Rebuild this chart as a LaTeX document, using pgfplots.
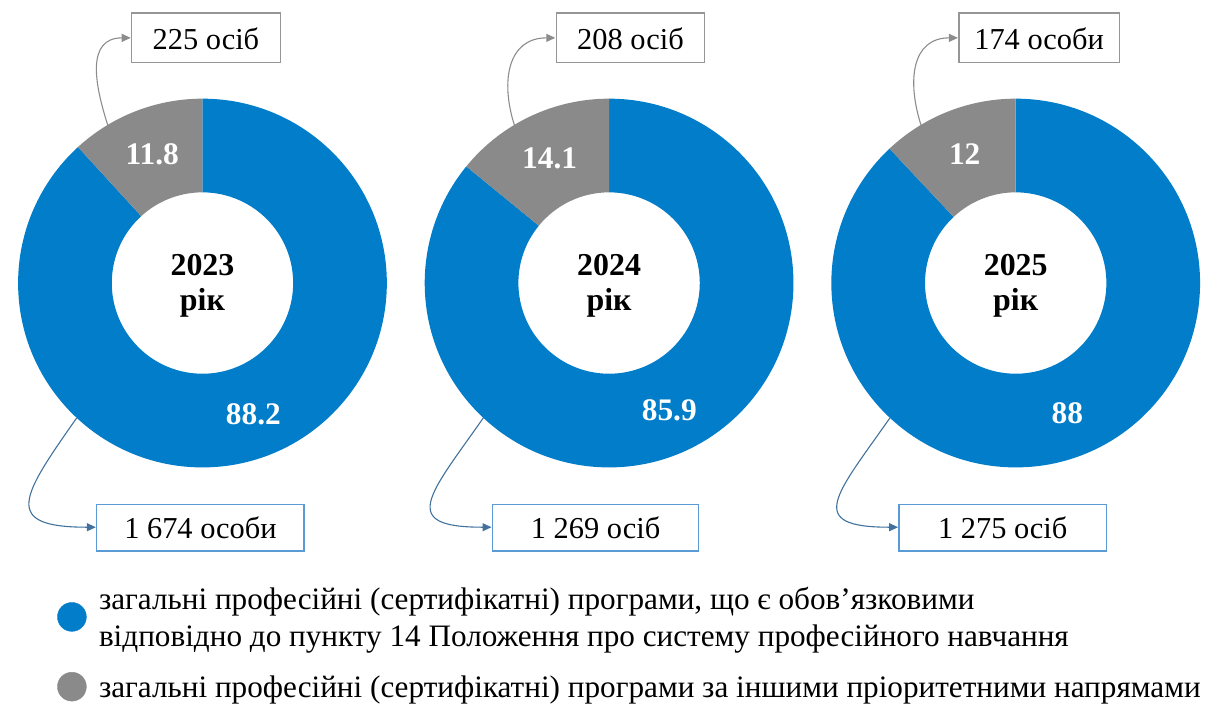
\documentclass[border=0pt]{standalone}
\usepackage{pgfplots}
\pgfplotsset{compat=1.18}
\usepackage{pgfplotstable}
\usepackage{fontspec}
\setmainfont{Liberation Serif}
\usetikzlibrary{arrows.meta}
\definecolor{cblue}{RGB}{2,125,201}
\definecolor{cgray}{RGB}{138,138,138}
\definecolor{boxgray}{RGB}{150,150,150}
\definecolor{boxblue}{RGB}{91,155,213}
\definecolor{arrgray}{RGB}{140,140,140}
\definecolor{arrblue}{RGB}{65,113,156}

\pgfplotstableread{
cx year blue gray
199 2023 88.2 11.8
607 2024 85.9 14.1
1015 2025 88 12
}\donuts

\pgfplotstablegetelem{0}{cx}\of\donuts\let\cxA\pgfplotsretval
\pgfplotstablegetelem{0}{year}\of\donuts\let\yearA\pgfplotsretval
\pgfplotstablegetelem{0}{blue}\of\donuts\let\blueA\pgfplotsretval
\pgfplotstablegetelem{0}{gray}\of\donuts\let\grayA\pgfplotsretval
\pgfplotstablegetelem{1}{cx}\of\donuts\let\cxB\pgfplotsretval
\pgfplotstablegetelem{1}{year}\of\donuts\let\yearB\pgfplotsretval
\pgfplotstablegetelem{1}{blue}\of\donuts\let\blueB\pgfplotsretval
\pgfplotstablegetelem{1}{gray}\of\donuts\let\grayB\pgfplotsretval
\pgfplotstablegetelem{2}{cx}\of\donuts\let\cxC\pgfplotsretval
\pgfplotstablegetelem{2}{year}\of\donuts\let\yearC\pgfplotsretval
\pgfplotstablegetelem{2}{blue}\of\donuts\let\blueC\pgfplotsretval
\pgfplotstablegetelem{2}{gray}\of\donuts\let\grayC\pgfplotsretval

% #1 cx, #2 year, #3 blue share, #4 gray share
\newcommand{\donut}[4]{%
  \fill[cblue] (axis cs:#1,284) ++(90:185pt)
     arc[start angle=90, end angle={90-3.6*#3}, radius=185pt]
     -- ++({90-3.6*#3}:-94pt)
     arc[start angle={90-3.6*#3}, end angle=90, radius=91pt] -- cycle;
  \fill[cgray] (axis cs:#1,284) ++(90:185pt)
     arc[start angle=90, end angle={90+3.6*#4}, radius=185pt]
     -- ++({90+3.6*#4}:-94pt)
     arc[start angle={90+3.6*#4}, end angle=90, radius=91pt] -- cycle;
  \path (axis cs:#1,284) ++({90+1.8*#4}:139pt)
     node[text=white, font=\bfseries\fontsize{31.5}{36}\selectfont] {#4};
  \path (axis cs:#1,284) ++({90-1.8*#3}:141pt)
     node[text=white, font=\bfseries\fontsize{31.5}{36}\selectfont] {#3};
  \node[anchor=base, font=\bfseries\fontsize{32}{36}\selectfont] at (axis cs:#1,276) {#2};
  \node[anchor=base, font=\bfseries\fontsize{32}{36}\selectfont] at (axis cs:#1,312) {рік};
}
% #1 cx, #2 top box left, #3 top box right, #4 top text, #5 bottom box left, #6 bottom box right, #7 bottom text
\newcommand{\callouts}[7]{%
  \draw[boxgray, line width=1.3pt, fill=white] (axis cs:#2,13) rectangle (axis cs:#3,63);
  \node[font=\fontsize{30.5}{36}\selectfont] at (axis cs:{(#2+#3)/2},38.5) {#4};
  \draw[boxblue, line width=1.3pt, fill=white] (axis cs:#5,506) rectangle (axis cs:#6,553);
  \node[font=\fontsize{30.5}{36}\selectfont] at (axis cs:{(#5+#6)/2},530) {#7};
  \draw[arrgray, line width=1.1pt, -{Triangle[length=9pt,width=8pt]}]
     (axis cs:#1,284) ++(121:184pt) to[out=108, in=180, looseness=1.25] (axis cs:#2-1,38);
  \draw[arrblue, line width=1.1pt, -{Triangle[length=9pt,width=8pt]}]
     (axis cs:#1,284) ++(227:185pt) to[out=235, in=180, looseness=2.2] (axis cs:#5-1,529);
}

\begin{document}
\begin{tikzpicture}
\begin{axis}[
  width=1219pt, height=707pt, scale only axis,
  xmin=0, xmax=1219, ymin=0, ymax=707, y dir=reverse,
  hide axis, clip=false]
\path (axis cs:0,0) rectangle (axis cs:1219,707);
\donut{\cxA}{\yearA}{\blueA}{\grayA}
\donut{\cxB}{\yearB}{\blueB}{\grayB}
\donut{\cxC}{\yearC}{\blueC}{\grayC}
\callouts{\cxA}{128}{277}{225 осіб}{93}{301}{1 674 особи}
\callouts{\cxB}{554}{703}{208 осіб}{490}{697}{1 269 осіб}
\callouts{\cxC}{958}{1119}{174 особи}{898}{1106}{1 275 осіб}
% legend
\addplot[only marks, mark=*, mark size=14.5pt, color=cblue] coordinates {(68,619)};
\addplot[only marks, mark=*, mark size=14.5pt, color=cgray] coordinates {(68,689)};
\node[anchor=base west, inner sep=0pt, font=\fontsize{31.3}{36}\selectfont] at (axis cs:95,612)
  {загальні професійні (сертифікатні) програми, що є обов’язковими};
\node[anchor=base west, inner sep=0pt, font=\fontsize{31.3}{36}\selectfont] at (axis cs:95,649)
  {відповідно до пункту 14 Положення про систему професійного навчання};
\node[anchor=base west, inner sep=0pt, font=\fontsize{31.3}{36}\selectfont] at (axis cs:95,700)
  {загальні професійні (сертифікатні) програми за іншими пріоритетними напрямами};
\end{axis}
\end{tikzpicture}
\end{document}
